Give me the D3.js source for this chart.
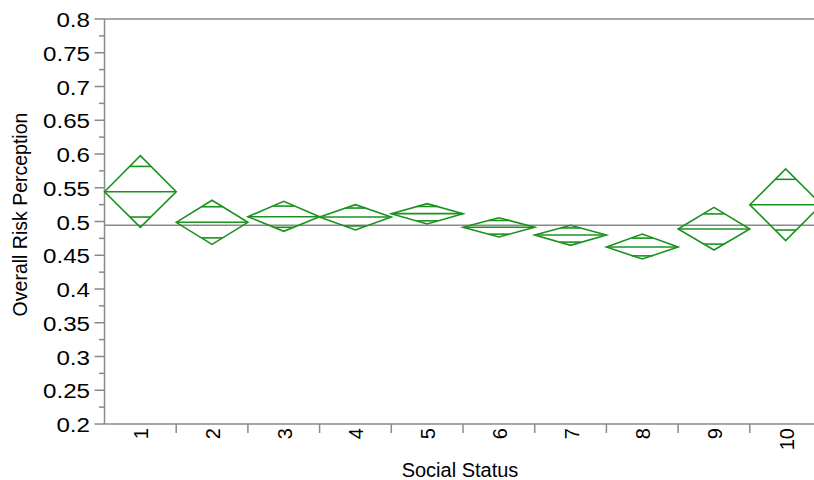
<!DOCTYPE html>
<html>
<head>
<meta charset="utf-8">
<script src="https://d3js.org/d3.v7.min.js"></script>
<style>
  body { margin: 0; background: #fff; }
  svg { display: block; font-family: "Liberation Sans", Arial, sans-serif; }
</style>
</head>
<body>
<div class="wrapper"></div>
<script>
// chart size
var ultimatew = 814,
  ultimateh = 480,
  plotLeft = 104.5,
  plotTop = 19,
  plotBottom = 424,
  bandStep = 71.7;

// data
var statusLevels = ["1", "2", "3", "4", "5", "6", "7", "8", "9", "10"];
var groupMeans = [0.5441, 0.4988, 0.5071, 0.5067, 0.5116, 0.4914, 0.48, 0.4622, 0.4889, 0.5249];
var upperCI = [0.5975, 0.5314, 0.5299, 0.5249, 0.5264, 0.5056, 0.4944, 0.4815, 0.521, 0.5778];
var lowerCI = [0.4914, 0.4662, 0.4855, 0.4874, 0.4963, 0.477, 0.4647, 0.4444, 0.4578, 0.4716];
var grandMean = 0.4944;
var yTicks = [0.2, 0.25, 0.3, 0.35, 0.4, 0.45, 0.5, 0.55, 0.6, 0.65, 0.7, 0.75, 0.8];
var yMinorTicks = [0.225, 0.275, 0.325, 0.375, 0.425, 0.475, 0.525, 0.575, 0.625, 0.675, 0.725, 0.775];

var axisColor = "#8a8a8a",
  diamondColor = "#1b921f";

var svg = d3
  .select(".wrapper")
  .append("svg")
  .attr("width", ultimatew)
  .attr("height", ultimateh);

// scales
var y = d3
  .scaleLinear()
  .domain([0.2, 0.8])
  .range([plotBottom, plotTop]);

var x = d3
  .scaleBand()
  .domain(statusLevels)
  .range([plotLeft, plotLeft + bandStep * statusLevels.length])
  .paddingInner(0)
  .paddingOuter(0);

// top border
svg
  .append("line")
  .attr("x1", plotLeft)
  .attr("x2", ultimatew)
  .attr("y1", plotTop)
  .attr("y2", plotTop)
  .attr("stroke", axisColor)
  .attr("stroke-width", 1.5);

// grand mean line
svg
  .append("line")
  .attr("x1", plotLeft)
  .attr("x2", ultimatew)
  .attr("y1", y(grandMean))
  .attr("y2", y(grandMean))
  .attr("stroke", axisColor)
  .attr("stroke-width", 1.5);

// y axis
var yAxis = svg.append("g").attr("class", "yAxis");

yAxis
  .append("line")
  .attr("x1", plotLeft)
  .attr("x2", plotLeft)
  .attr("y1", plotTop)
  .attr("y2", plotBottom)
  .attr("stroke", axisColor)
  .attr("stroke-width", 1.5);

yAxis
  .selectAll(".major")
  .data(yTicks)
  .enter()
  .append("line")
  .attr("class", "major")
  .attr("x1", plotLeft - 10)
  .attr("x2", plotLeft)
  .attr("y1", function(d) { return y(d); })
  .attr("y2", function(d) { return y(d); })
  .attr("stroke", axisColor)
  .attr("stroke-width", 1.5);

yAxis
  .selectAll(".minor")
  .data(yMinorTicks)
  .enter()
  .append("line")
  .attr("class", "minor")
  .attr("x1", plotLeft - 5.5)
  .attr("x2", plotLeft)
  .attr("y1", function(d) { return y(d); })
  .attr("y2", function(d) { return y(d); })
  .attr("stroke", axisColor)
  .attr("stroke-width", 1.5);

yAxis
  .selectAll(".tickLabel")
  .data(yTicks)
  .enter()
  .append("text")
  .attr("class", "tickLabel")
  .attr("transform", function(d) {
    return "translate(90," + (y(d) + 8) + ") scale(1.15,1)";
  })
  .attr("text-anchor", "end")
  .attr("font-size", 21)
  .attr("fill", "#000")
  .text(function(d) { return d3.format("")(d); });

// x axis
var xAxis = svg.append("g").attr("class", "xAxis");

xAxis
  .append("line")
  .attr("x1", plotLeft)
  .attr("x2", ultimatew)
  .attr("y1", plotBottom)
  .attr("y2", plotBottom)
  .attr("stroke", axisColor)
  .attr("stroke-width", 1.5);

xAxis
  .selectAll(".sep")
  .data(statusLevels.slice(1))
  .enter()
  .append("line")
  .attr("class", "sep")
  .attr("x1", function(d) { return x(d); })
  .attr("x2", function(d) { return x(d); })
  .attr("y1", plotBottom)
  .attr("y2", plotBottom + 9)
  .attr("stroke", axisColor)
  .attr("stroke-width", 1.5);

xAxis
  .selectAll(".tickLabel")
  .data(statusLevels)
  .enter()
  .append("text")
  .attr("class", "tickLabel")
  .attr("transform", function(d) {
    return "translate(" + (x(d) + x.bandwidth() / 2 + 8) + "," + (plotBottom + 4) + ") rotate(-90)";
  })
  .attr("text-anchor", "end")
  .attr("font-size", 20)
  .attr("fill", "#000")
  .text(function(d) { return d; });

// axis titles
svg
  .append("text")
  .attr("transform", "translate(27,214.5) rotate(-90)")
  .attr("text-anchor", "middle")
  .attr("font-size", 19.5)
  .attr("fill", "#000")
  .text("Overall Risk Perception");

svg
  .append("text")
  .attr("x", 460)
  .attr("y", 477)
  .attr("text-anchor", "middle")
  .attr("font-size", 20)
  .attr("fill", "#000")
  .text("Social Status");

// means diamonds
var diamonds = statusLevels.map(function(s, i) {
  return { level: s, mean: groupMeans[i], upper: upperCI[i], lower: lowerCI[i] };
});

var dGroup = svg
  .selectAll(".diamond")
  .data(diamonds)
  .enter()
  .append("g")
  .attr("class", "diamond")
  .attr("fill", "none")
  .attr("stroke", diamondColor)
  .attr("stroke-width", 1.6);

dGroup.append("path").attr("d", function(d) {
  var x0 = x(d.level),
    x1 = x0 + x.bandwidth(),
    xm = x0 + x.bandwidth() / 2;
  return "M" + x0 + "," + y(d.mean) +
    "L" + xm + "," + y(d.upper) +
    "L" + x1 + "," + y(d.mean) +
    "L" + xm + "," + y(d.lower) + "Z";
});

// mean line
dGroup
  .append("line")
  .attr("x1", function(d) { return x(d.level); })
  .attr("x2", function(d) { return x(d.level) + x.bandwidth(); })
  .attr("y1", function(d) { return y(d.mean); })
  .attr("y2", function(d) { return y(d.mean); });

// overlap marks at mean +/- halfwidth/sqrt(2)
[1, -1].forEach(function(sign) {
  dGroup
    .append("line")
    .each(function(d) {
      var half = (d.upper - d.lower) / 2,
        off = half / Math.SQRT2,
        w = x.bandwidth() * (1 - 1 / Math.SQRT2) / 2,
        xm = x(d.level) + x.bandwidth() / 2,
        yy = y(d.mean + sign * off);
      d3.select(this)
        .attr("x1", xm - w)
        .attr("x2", xm + w)
        .attr("y1", yy)
        .attr("y2", yy);
    });
});
</script>
</body>
</html>
